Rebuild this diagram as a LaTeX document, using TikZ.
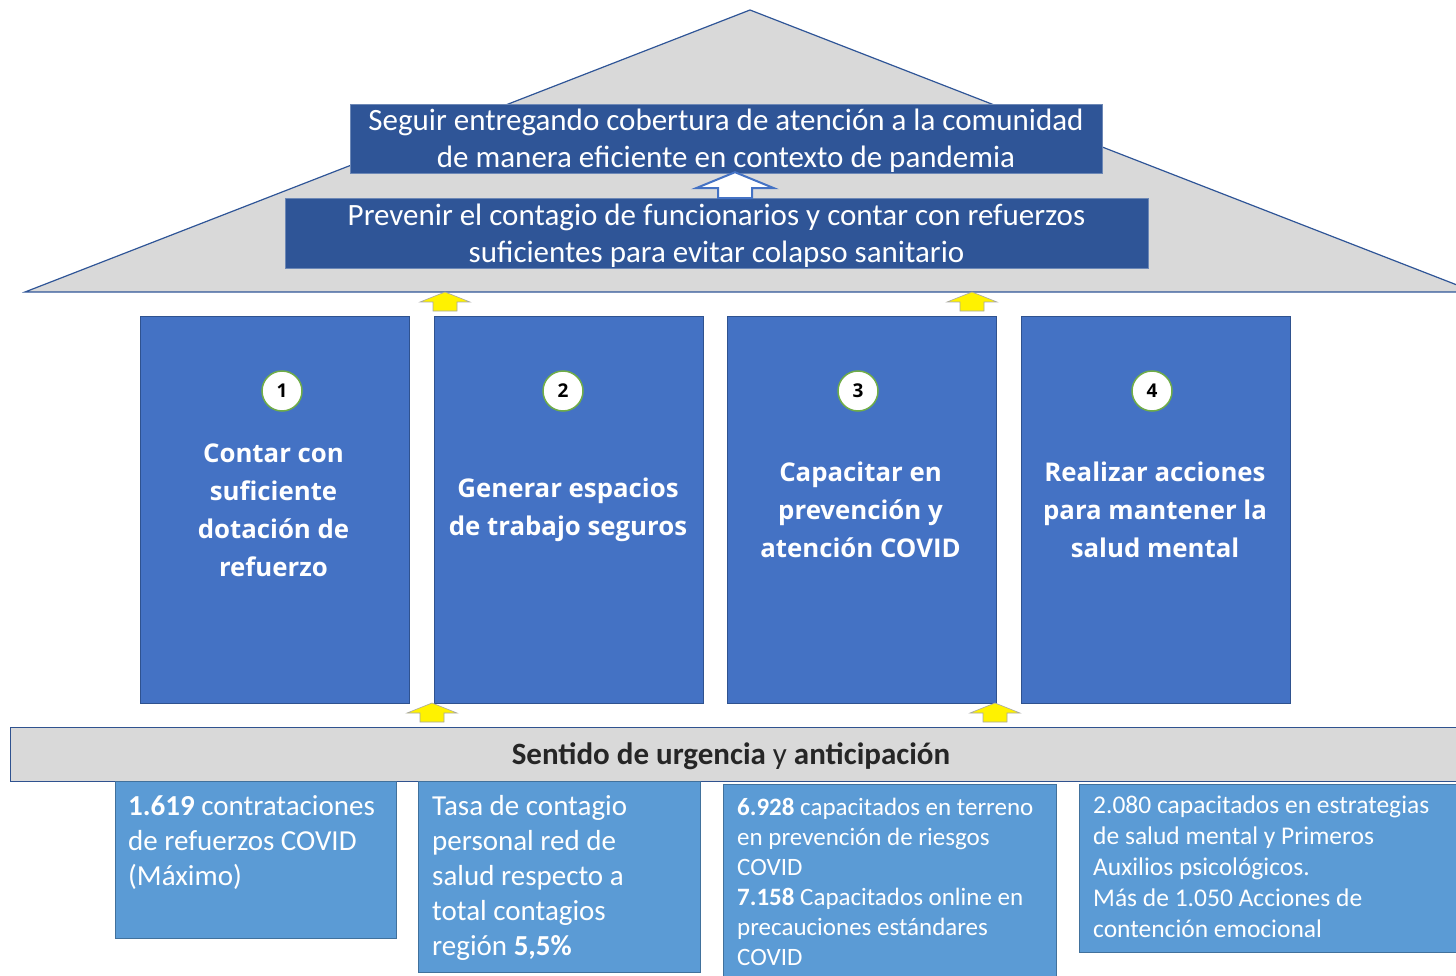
\documentclass[tikz,border=0pt]{standalone}
\usepackage{fontspec}
\setmainfont{Carlito}
\newfontfamily\titlefont{Open Sans}
\usetikzlibrary{positioning}

\definecolor{goalblue}{HTML}{2F5597}
\definecolor{pillarblue}{HTML}{4472C4}
\definecolor{pillarline}{HTML}{2F528F}
\definecolor{datablue}{HTML}{5B9BD5}
\definecolor{dataline}{HTML}{41719C}
\definecolor{roofgray}{HTML}{D9D9D9}
\definecolor{ringgreen}{HTML}{70AD47}
\definecolor{textdark}{HTML}{262626}

\begin{document}
\begin{tikzpicture}[
	x=1pt,
	y=-1pt,
	roofshape/.style={
		draw=goalblue,
		fill=roofgray,
		line width=1.2pt
	},
	goalbox/.style={
		rectangle,
		draw=goalblue!70,
		fill=goalblue,
		text=white,
		inner sep=0pt
	},
	goaltext/.style={
		text=white,
		align=center,
		font=\fontsize{31}{37}\selectfont
	},
	pillarbox/.style={
		rectangle,
		minimum width=269pt,
		minimum height=387pt,
		draw=pillarline,
		fill=pillarblue,
		inner sep=0pt
	},
	pillartitle/.style={
		text=white,
		align=center,
		font=\titlefont\bfseries\fontsize{25.8}{38}\selectfont
	},
	numbercircle/.style={
		circle,
		minimum size=40pt,
		inner sep=0pt,
		draw=ringgreen,
		line width=1.5pt,
		fill=white,
		font=\titlefont\bfseries\fontsize{19}{19}\selectfont
	},
	basebar/.style={
		rectangle,
		draw=pillarline,
		fill=roofgray,
		line width=1.2pt,
		inner sep=0pt
	},
	databox/.style={
		rectangle,
		draw=dataline,
		fill=datablue,
		line width=1pt,
		inner sep=0pt
	},
	datatext/.style={
		anchor=north west,
		align=left,
		text=white,
		inner sep=0pt
	},
	yellowarrow/.style={
		fill=yellow,
		draw=black!35,
		line width=0.6pt
	},
	hollowarrow/.style={
		fill=white,
		draw=pillarblue,
		line width=2pt
	}
]

\useasboundingbox (0,0) rectangle (1456,976);
\clip (0,0) rectangle (1456,976);

% roof
\draw[roofshape] (750,10) coordinate (apex) -- (1475,292) -- (25,292) -- cycle;

\node[goalbox, minimum width=752pt, minimum height=69pt] (goaltop) at (726,138.5) {};
\node[goaltext] (goaltoptext) at (726,141) {Seguir entregando cobertura de atención a la comunidad\\de manera eficiente en contexto de pandemia};

\node[goalbox, minimum width=863pt, minimum height=70pt] (goalmid) at (716.5,233) {};
\node[goaltext] (goalmidtext) at (716.5,236) {Prevenir el contagio de funcionarios y contar con refuerzos\\suficientes para evitar colapso sanitario};

% hollow arrow between the two goals
\draw[hollowarrow] (goaltop.south -| 735,0) ++(0,-1) -- ++(39,16) -- ++(-22,0) -- ++(0,10) -- ++(-34,0) -- ++(0,-10) -- ++(-22,0) -- cycle;

% pillars
\foreach \px/\cx/\pnum/\ptitle [count=\i] in {
	274.5/282/1/{Contar con\\suficiente\\dotación de\\refuerzo},
	569/563/2/{Generar espacios\\de trabajo seguros},
	861.5/858/3/{Capacitar en\\prevención y\\atención COVID},
	1156/1152/4/{Realizar acciones\\para mantener la\\salud mental}%
} {
	\node[pillarbox] (pillar\i) at (\px,509.5) {};
	\node[numbercircle] (number\i) at (\cx,391) {\pnum};
	\node[pillartitle] (title\i) at (\px-1,510) {\ptitle};
}

% base bar
\node[basebar, minimum width=1470pt, minimum height=54pt, anchor=north west] (base) at (10,727) {};
\node[text=textdark, font=\fontsize{31}{31}\selectfont] (basetext) at (731,756) {\textbf{Sentido de urgencia} y \textbf{anticipación}};

% yellow arrows
\foreach \ax/\ay in {445/292, 972/292, 432/703, 995/703} {
	\draw[yellowarrow] (\ax,\ay) -- ++(25,10) -- ++(-13,0) -- ++(0,9) -- ++(-24,0) -- ++(0,-9) -- ++(-13,0) -- cycle;
}

% data boxes
\node[databox, minimum width=281pt, minimum height=157pt, anchor=north west] (data1) at (115,781) {};
\node[datatext, font=\fontsize{29}{35}\selectfont] (data1text) at (128,795) {\textbf{1.619} contrataciones\\de refuerzos COVID\\(Máximo)};

\node[databox, minimum width=282pt, minimum height=191pt, anchor=north west] (data2) at (418,781) {};
\node[datatext, font=\fontsize{29}{35}\selectfont] (data2text) at (432,795) {Tasa de contagio\\personal red de\\salud respecto a\\total contagios\\región \textbf{5,5\%}};

\node[databox, minimum width=333pt, minimum height=200pt, anchor=north west] (data3) at (723,784) {};
\node[datatext, font=\fontsize{25}{30}\selectfont] (data3text) at (737,798) {\textbf{6.928} capacitados en terreno\\en prevención de riesgos\\COVID\\\textbf{7.158} Capacitados online en\\precauciones estándares\\COVID};

\node[databox, minimum width=390pt, minimum height=168pt, anchor=north west] (data4) at (1079,784) {};
\node[datatext, font=\fontsize{25.5}{30.8}\selectfont] (data4text) at (1093,796) {2.080 capacitados en estrategias\\de salud mental y Primeros\\Auxilios psicológicos.\\Más de 1.050 Acciones de\\contención emocional};

\end{tikzpicture}
\end{document}
